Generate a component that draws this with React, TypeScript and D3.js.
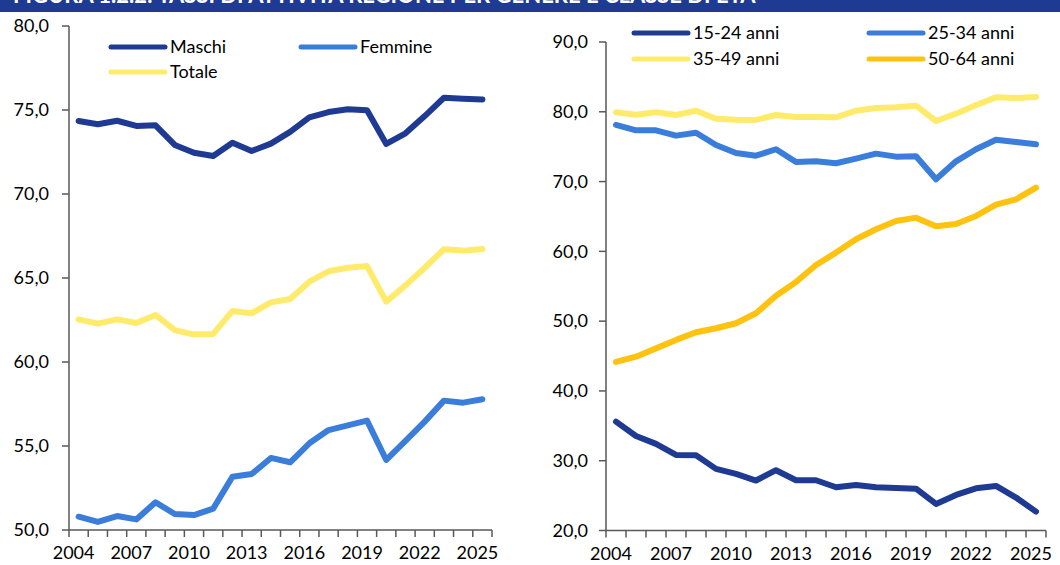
import React from "react";
import * as d3 from "d3";

const years = d3.range(2004, 2026).map(String);
const tickYears = ["2004", "2007", "2010", "2013", "2016", "2019", "2022", "2025"];

const maschi = [74.35, 74.15, 74.36, 74.05, 74.09, 72.92, 72.46, 72.26, 73.05, 72.56, 73.0, 73.7, 74.56, 74.88, 75.04, 74.98, 72.98, 73.61, 74.64, 75.73, 75.67, 75.63];
const femmine = [50.79, 50.48, 50.83, 50.63, 51.65, 50.95, 50.89, 51.27, 53.17, 53.33, 54.29, 54.03, 55.16, 55.95, 56.23, 56.51, 54.17, 55.3, 56.45, 57.7, 57.58, 57.78];
const totale = [62.54, 62.28, 62.54, 62.32, 62.8, 61.9, 61.63, 61.67, 63.04, 62.9, 63.55, 63.75, 64.78, 65.4, 65.61, 65.71, 63.59, 64.56, 65.61, 66.71, 66.63, 66.73];

const eta1524 = [35.6, 33.55, 32.41, 30.83, 30.78, 28.83, 28.11, 27.16, 28.64, 27.2, 27.2, 26.2, 26.53, 26.2, 26.1, 26.0, 23.81, 25.1, 26.05, 26.39, 24.72, 22.71];
const eta2534 = [78.11, 77.35, 77.35, 76.58, 77.0, 75.24, 74.1, 73.71, 74.63, 72.81, 72.9, 72.62, 73.28, 74.0, 73.57, 73.62, 70.33, 72.9, 74.63, 76.0, 75.67, 75.34];
const eta3549 = [79.93, 79.59, 79.93, 79.54, 80.16, 79.0, 78.87, 78.83, 79.54, 79.25, 79.25, 79.2, 80.16, 80.54, 80.64, 80.88, 78.68, 79.73, 80.97, 82.07, 81.98, 82.12];
const eta5064 = [44.15, 44.91, 46.1, 47.31, 48.4, 48.98, 49.7, 51.13, 53.65, 55.62, 58.05, 59.82, 61.73, 63.16, 64.36, 64.83, 63.59, 63.92, 65.07, 66.69, 67.46, 69.13];

const leftTicks = [50, 55, 60, 65, 70, 75, 80];
const rightTicks = [20, 30, 40, 50, 60, 70, 80, 90];

const DARK = "#1F3A93";
const MID = "#3A7DDB";
const YEL = "#FFEB6B";
const ORA = "#FFC20E";
const AXIS = "#595959";
const FONT = "Lato, 'Liberation Sans', sans-serif";
const fmt = (v: number) => v.toFixed(1).replace(".", ",");

type Series = { name: string; values: number[]; color: string };
type Legend = { name: string; color: string; x: number; y: number };

const Panel = ({ x0, x1, yTop, yBot, domain, ticks, series, legend, labelRight }: {
  x0: number; x1: number; yTop: number; yBot: number; domain: [number, number];
  ticks: number[]; series: Series[]; legend: Legend[]; labelRight: number;
}) => {
  const x = d3.scaleBand().domain(years).range([x0, x1]);
  const y = d3.scaleLinear().domain(domain).range([yBot, yTop]);
  const line = d3.line<number>()
    .x((_, i) => (x(years[i]) as number) + x.bandwidth() / 2)
    .y((d) => y(d));
  return (
    <g>
      {series.map((s) => (
        <path key={s.name} d={line(s.values) || ""} fill="none" stroke={s.color}
          strokeWidth={6} strokeLinejoin="round" strokeLinecap="round" />
      ))}
      <line x1={x0} x2={x0} y1={yTop} y2={yBot} stroke={AXIS} strokeWidth={1.5} />
      <line x1={x0} x2={x1} y1={yBot} y2={yBot} stroke={AXIS} strokeWidth={1.5} />
      {ticks.map((t) => (
        <g key={t}>
          <line x1={x0 - 7} x2={x0} y1={y(t)} y2={y(t)} stroke={AXIS} strokeWidth={1.5} />
          <text x={labelRight} y={y(t)} dy="0.35em" textAnchor="end" fontSize={18}
            fontFamily={FONT} fill="#000">{fmt(t)}</text>
        </g>
      ))}
      {years.concat(["end"]).map((yr, i) => {
        const px = x0 + i * x.bandwidth();
        return <line key={yr} x1={px} x2={px} y1={yBot} y2={yBot + 7} stroke={AXIS} strokeWidth={1.5} />;
      })}
      {tickYears.map((yr) => (
        <text key={yr} x={(x(yr) as number) + x.bandwidth() / 2 - 5} y={yBot + 29}
          textAnchor="middle" fontSize={18} fontFamily={FONT} fill="#000">{yr}</text>
      ))}
      {legend.map((l) => (
        <g key={l.name}>
          <line x1={l.x} x2={l.x + 54} y1={l.y} y2={l.y} stroke={l.color} strokeWidth={5} strokeLinecap="round" />
          <text x={l.x + 59} y={l.y} dy="0.35em" fontSize={18} fontFamily={FONT} fill="#000">{l.name}</text>
        </g>
      ))}
    </g>
  );
};

export default function App() {
  return (
    <svg width={1060} height={565} style={{ position: "absolute", left: 0, top: 0, background: "#fff" }}>
      <rect x={0} y={0} width={1060} height={12} fill={DARK} />
      <text x={13} y={3} fontSize={22} fontWeight="bold" fontFamily={FONT} fill="#fff">
        FIGURA 1.2.2: TASSI DI ATTIVITÀ REGIONE PER GENERE E CLASSE DI ETÀ
      </text>
      <Panel x0={69} x1={492} yTop={26} yBot={530} domain={[50, 80]} ticks={leftTicks} labelRight={49}
        series={[
          { name: "Totale", values: totale, color: YEL },
          { name: "Femmine", values: femmine, color: MID },
          { name: "Maschi", values: maschi, color: DARK },
        ]}
        legend={[
          { name: "Maschi", color: DARK, x: 111, y: 47 },
          { name: "Femmine", color: MID, x: 301, y: 47 },
          { name: "Totale", color: YEL, x: 111, y: 72 },
        ]} />
      <Panel x0={606} x1={1046} yTop={42} yBot={530.5} domain={[20, 90]} ticks={rightTicks} labelRight={588}
        series={[
          { name: "35-49 anni", values: eta3549, color: YEL },
          { name: "25-34 anni", values: eta2534, color: MID },
          { name: "50-64 anni", values: eta5064, color: ORA },
          { name: "15-24 anni", values: eta1524, color: DARK },
        ]}
        legend={[
          { name: "15-24 anni", color: DARK, x: 634, y: 33 },
          { name: "25-34 anni", color: MID, x: 869, y: 33 },
          { name: "35-49 anni", color: YEL, x: 634, y: 59 },
          { name: "50-64 anni", color: ORA, x: 869, y: 59 },
        ]} />
    </svg>
  );
}
